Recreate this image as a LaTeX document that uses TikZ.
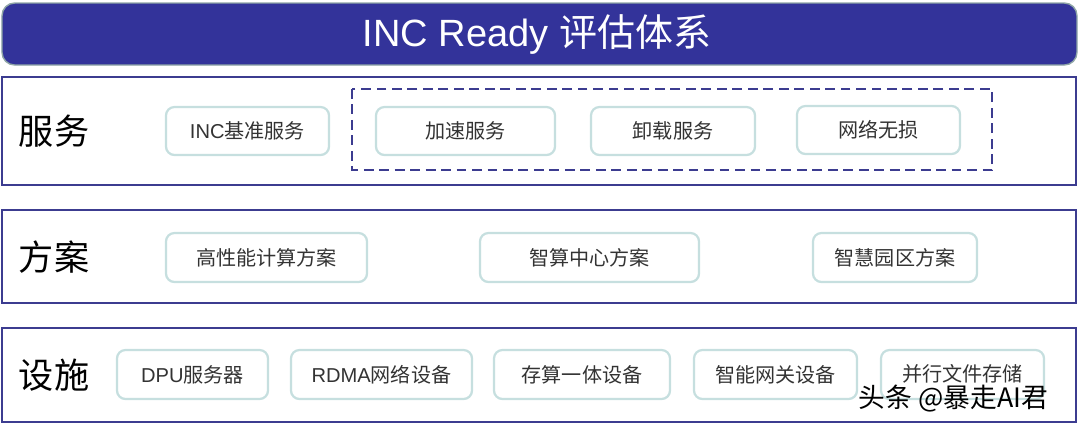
\documentclass[tikz,border=0pt]{standalone}
\usepackage{fontspec}
\setmainfont{Liberation Sans}
\newfontfamily\cjk{Noto Sans CJK SC}
\usetikzlibrary{positioning}
\definecolor{barblue}{HTML}{33339A}
\definecolor{barrim}{HTML}{8FA6A6}
\definecolor{frameblue}{HTML}{3C3C90}
\definecolor{itemrim}{HTML}{C6DFDF}
\definecolor{itemtext}{HTML}{333333}

\begin{document}
\begin{tikzpicture}
  [x=0.025cm,y=-0.025cm,
   layer/.style={draw=frameblue, line width=1.2pt},
   item/.style={shape=rectangle, rounded corners=6pt, draw=itemrim,
     line width=1.6pt, fill=white, text=itemtext, font=\fontsize{14.3}{16}\selectfont,
     inner sep=0pt},
   tag/.style={font=\cjk\fontsize{25}{28}\selectfont, text=black, anchor=west}]
  \useasboundingbox (0,0) rectangle (1080,424);
  % title bar
  \draw[barrim, fill=barblue, line width=1pt, rounded corners=9pt] (2,3) rectangle (1077,65);
  \node (title) at (537,34) {\textcolor{white}{\fontsize{27}{30}\selectfont INC Ready {\cjk 评估体系}}};
  % layers
  \draw[layer] (2,77) rectangle (1076,185);
  \draw[layer] (2,210) rectangle (1076,303);
  \draw[layer] (2,328) rectangle (1076,422);
  \draw[frameblue, line width=1.4pt, dash pattern=on 7pt off 4pt] (352,89) rectangle (992,170);
  \node[tag] (svc) at (14,131) {服务};
  \node[tag] (plan) at (14,257) {方案};
  \node[tag] (infra) at (14,375) {设施};
  % service row
  \node[item, minimum width=163*0.025cm, minimum height=48*0.025cm] (base) at (247.5,131) {INC{\cjk 基准服务}};
  \node[item, minimum width=179*0.025cm, minimum height=48*0.025cm] (accel) at (465.5,131) {\cjk 加速服务};
  \node[item, minimum width=164*0.025cm, minimum height=48*0.025cm] (offload) at (673,131) {\cjk 卸载服务};
  \node[item, minimum width=163*0.025cm, minimum height=48*0.025cm] (lossless) at (878.5,130) {\cjk 网络无损};
  % solution row
  \node[item, minimum width=201*0.025cm, minimum height=49*0.025cm] (hpc) at (266.5,257.5) {\cjk 高性能计算方案};
  \node[item, minimum width=219*0.025cm, minimum height=49*0.025cm] (aidc) at (589.5,257.5) {\cjk 智算中心方案};
  \node[item, minimum width=164*0.025cm, minimum height=49*0.025cm] (park) at (895,257.5) {\cjk 智慧园区方案};
  % facility row
  \node[item, minimum width=151*0.025cm, minimum height=49*0.025cm] (dpu) at (192.5,374.5) {DPU{\cjk 服务器}};
  \node[item, minimum width=181*0.025cm, minimum height=49*0.025cm] (rdma) at (381.5,374.5) {RDMA{\cjk 网络设备}};
  \node[item, minimum width=176*0.025cm, minimum height=49*0.025cm] (cim) at (582,374.5) {\cjk 存算一体设备};
  \node[item, minimum width=163*0.025cm, minimum height=49*0.025cm] (gw) at (775.5,374.5) {\cjk 智能网关设备};
  \node[item, minimum width=163*0.025cm, minimum height=49*0.025cm] (pfs) at (962.5,374.5) {\raisebox{0.1cm}{\cjk 并行文件存储}};
  % watermark
  \node[anchor=west, font=\cjk\fontsize{19}{22}\selectfont, text=black] (mark) at (854,399) {头条 @暴走AI君};
\end{tikzpicture}
\end{document}
